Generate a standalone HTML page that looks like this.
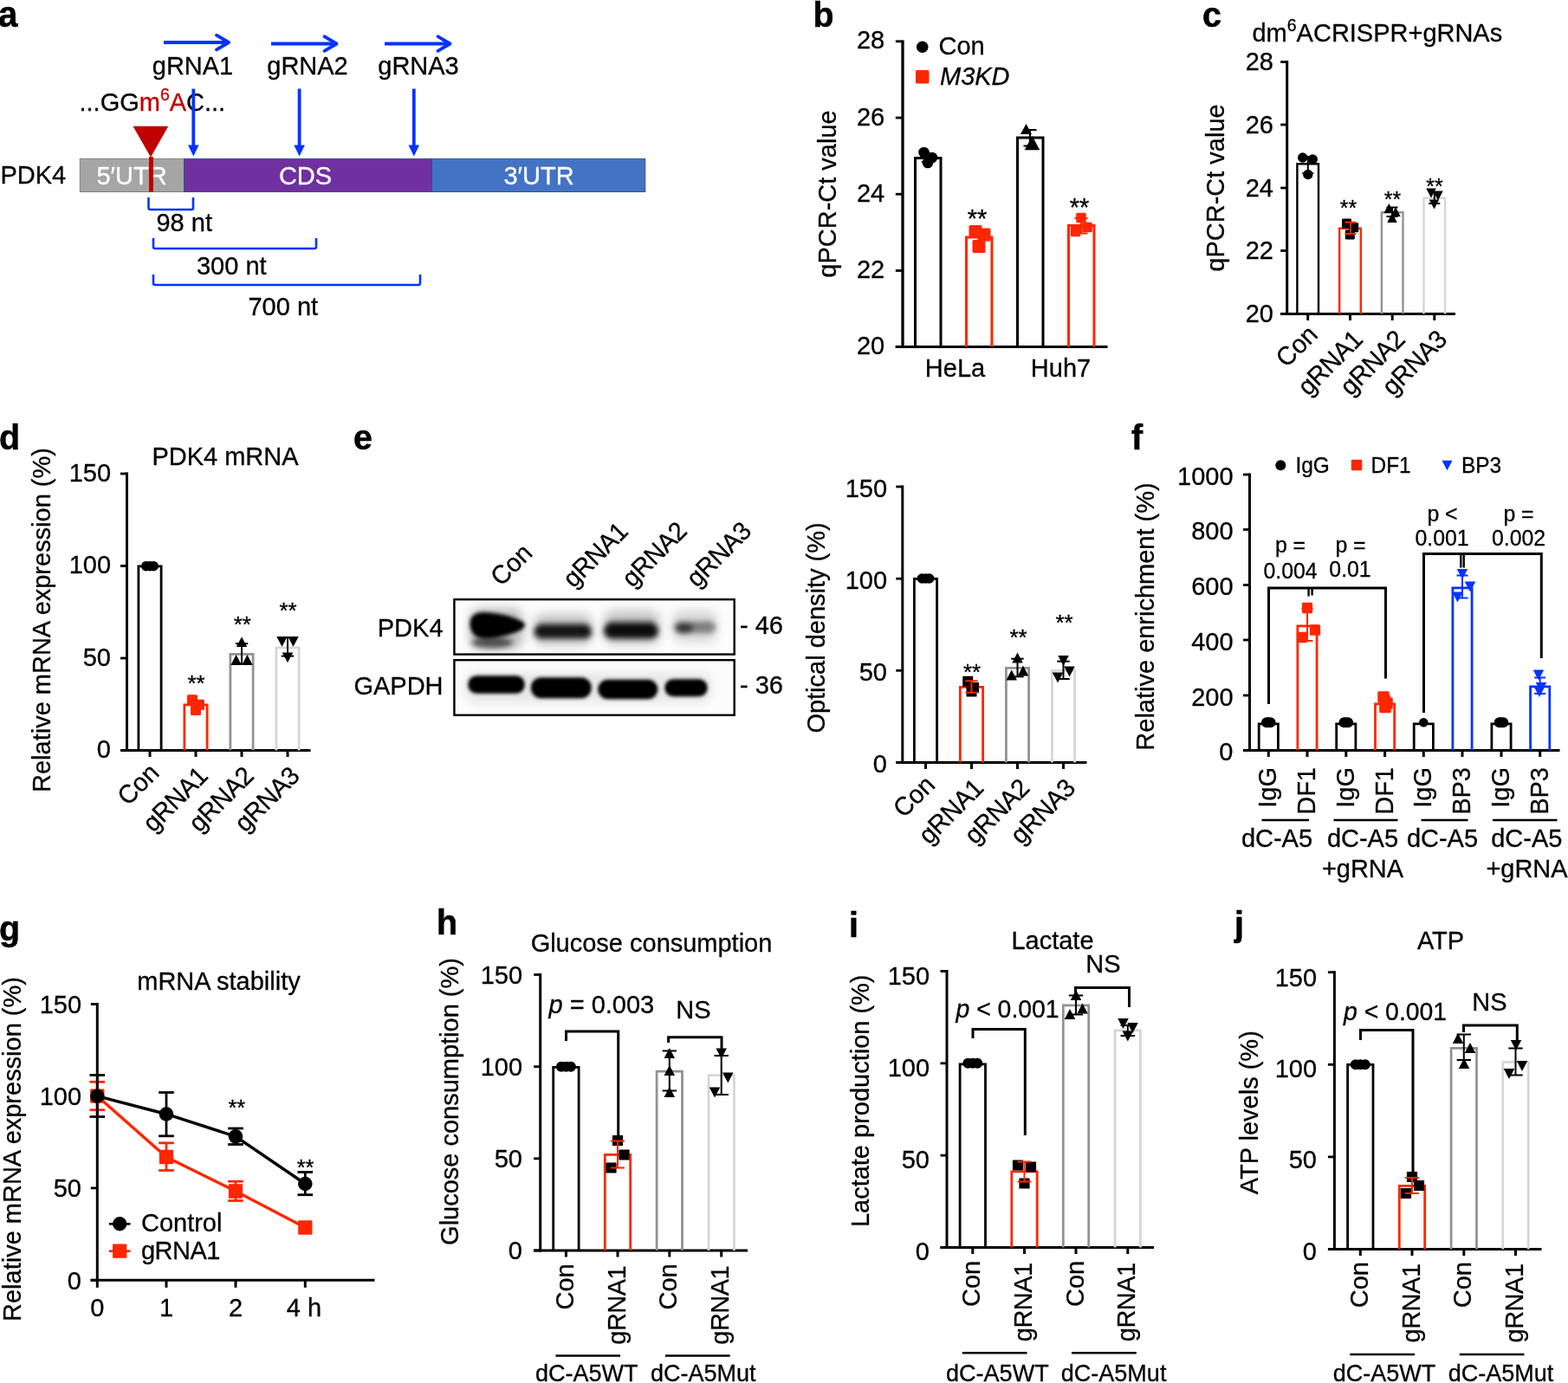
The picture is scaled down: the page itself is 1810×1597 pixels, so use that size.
<!DOCTYPE html>
<html lang="en"><head><meta charset="utf-8"><title>Figure</title>
<style>
html,body{margin:0;padding:0;background:#fff;}
body{width:1810px;height:1597px;overflow:hidden;}
svg{display:block;}
svg text{font-family:"Liberation Sans",sans-serif;}
</style></head><body>
<svg width="1810" height="1597" viewBox="0 0 1810 1597" font-size="29" fill="#000">
<rect width="1810" height="1597" fill="#fff"/>
<text font-weight="bold" font-size="40.39" transform="translate(-2 31) scale(1 1.03)" stroke="#000" stroke-width="0.5">a</text>
<line x1="189" y1="49" x2="262.5" y2="49" stroke="#0433ff" stroke-width="3.8"/>
<path d="M250 40.7 L264 49 L250 57.3" stroke="#0433ff" stroke-width="3.8" fill="none" stroke-linecap="round" stroke-linejoin="round"/>
<line x1="313" y1="50.5" x2="387" y2="50.5" stroke="#0433ff" stroke-width="3.8"/>
<path d="M374.5 42.2 L388.5 50.5 L374.5 58.8" stroke="#0433ff" stroke-width="3.8" fill="none" stroke-linecap="round" stroke-linejoin="round"/>
<line x1="444" y1="50.5" x2="518" y2="50.5" stroke="#0433ff" stroke-width="3.8"/>
<path d="M505.5 42.2 L519.5 50.5 L505.5 58.8" stroke="#0433ff" stroke-width="3.8" fill="none" stroke-linecap="round" stroke-linejoin="round"/>
<text text-anchor="middle" transform="translate(222.5 86) scale(1 1.03)" stroke="#000" stroke-width="0.3">gRNA1</text>
<text text-anchor="middle" transform="translate(355 86) scale(1 1.03)" stroke="#000" stroke-width="0.3">gRNA2</text>
<text text-anchor="middle" transform="translate(483 86) scale(1 1.03)" stroke="#000" stroke-width="0.3">gRNA3</text>
<text transform="translate(91.5 128) scale(1 1.03)" stroke="#000" stroke-width="0.3">...GG<tspan fill="#c00000" stroke="#c00000">m<tspan font-size="19.5" dy="-11.5">6</tspan><tspan dy="11.5">A</tspan></tspan>C...</text>
<line x1="223.3" y1="102.5" x2="223.3" y2="170" stroke="#0433ff" stroke-width="3.8"/>
<polygon points="223.3,180.5 217,167.5 229.6,167.5" fill="#0433ff"/>
<line x1="345.6" y1="102.5" x2="345.6" y2="170" stroke="#0433ff" stroke-width="3.8"/>
<polygon points="345.6,180.5 339.3,167.5 351.9,167.5" fill="#0433ff"/>
<line x1="477.8" y1="102.5" x2="477.8" y2="170" stroke="#0433ff" stroke-width="3.8"/>
<polygon points="477.8,180.5 471.5,167.5 484.1,167.5" fill="#0433ff"/>
<rect x="92.3" y="183.3" width="120.2" height="38.2" fill="#a5a5a5" stroke="#7f7f7f" stroke-width="1"/>
<rect x="212.5" y="183.3" width="286" height="38.2" fill="#7030a0" stroke="#2f528f" stroke-width="1"/>
<rect x="498.5" y="183.3" width="246.3" height="38.2" fill="#4472c4" stroke="#2f528f" stroke-width="1"/>
<text text-anchor="middle" fill="#fff" transform="translate(152 212.5) scale(1 1.03)" stroke="#fff" stroke-width="0.3">5′UTR</text>
<text text-anchor="middle" fill="#fff" transform="translate(352.5 212.5) scale(1 1.03)" stroke="#fff" stroke-width="0.3">CDS</text>
<text text-anchor="middle" fill="#fff" transform="translate(622 212.5) scale(1 1.03)" stroke="#fff" stroke-width="0.3">3′UTR</text>
<text transform="translate(0.5 212.3) scale(1 1.03)" stroke="#000" stroke-width="0.3">PDK4</text>
<polygon points="153.5,145.8 194.3,145.8 174,181.5" fill="#c00000"/>
<rect x="172" y="181" width="5" height="40.5" fill="#c00000"/>
<path d="M171.5 228 V240 Q171.5 242 173.5 242 H221 Q223 242 223 240 V228" stroke="#0433ff" stroke-width="2.6" fill="none"/>
<path d="M177 275 V285 Q177 287 179 287 H363 Q365 287 365 285 V275" stroke="#0433ff" stroke-width="2.6" fill="none"/>
<path d="M177 317 V327 Q177 329 179 329 H483 Q485 329 485 327 V317" stroke="#0433ff" stroke-width="2.6" fill="none"/>
<text transform="translate(180.5 267) scale(1 1.03)" stroke="#000" stroke-width="0.3">98 nt</text>
<text transform="translate(227 316.5) scale(1 1.03)" stroke="#000" stroke-width="0.3">300 nt</text>
<text transform="translate(286.5 364) scale(1 1.03)" stroke="#000" stroke-width="0.3">700 nt</text>
<text font-weight="bold" font-size="39.36" transform="translate(938.5 31) scale(1 1.03)" stroke="#000" stroke-width="0.5">b</text>
<line x1="1042" y1="46.4" x2="1042" y2="401.9" stroke="#000" stroke-width="3.3"/>
<line x1="1033.85" y1="47.8" x2="1042" y2="47.8" stroke="#000" stroke-width="2.8"/>
<text text-anchor="end" transform="translate(1021.2 56.4) scale(1 1.03)" stroke="#000" stroke-width="0.3">28</text>
<line x1="1033.85" y1="136" x2="1042" y2="136" stroke="#000" stroke-width="2.8"/>
<text text-anchor="end" transform="translate(1021.2 144.6) scale(1 1.03)" stroke="#000" stroke-width="0.3">26</text>
<line x1="1033.85" y1="224.2" x2="1042" y2="224.2" stroke="#000" stroke-width="2.8"/>
<text text-anchor="end" transform="translate(1021.2 232.8) scale(1 1.03)" stroke="#000" stroke-width="0.3">24</text>
<line x1="1033.85" y1="312.5" x2="1042" y2="312.5" stroke="#000" stroke-width="2.8"/>
<text text-anchor="end" transform="translate(1021.2 321.1) scale(1 1.03)" stroke="#000" stroke-width="0.3">22</text>
<line x1="1033.85" y1="400.5" x2="1042" y2="400.5" stroke="#000" stroke-width="2.8"/>
<text text-anchor="end" transform="translate(1021.2 409.1) scale(1 1.03)" stroke="#000" stroke-width="0.3">20</text>
<line x1="1033.7" y1="400.5" x2="1278.5" y2="400.5" stroke="#000" stroke-width="3.2"/>
<text text-anchor="middle" transform="translate(965 224) rotate(-90) scale(1 1.03)" stroke="#000" stroke-width="0.3">qPCR-Ct value</text>
<path d="M1056.5 400.5 V182.5 H1086 V400.5" stroke="#000" stroke-width="3" fill="none"/>
<path d="M1115.5 400.5 V274 H1145 V400.5" stroke="#ff2600" stroke-width="3" fill="none"/>
<path d="M1174.5 400.5 V159 H1204 V400.5" stroke="#000" stroke-width="3" fill="none"/>
<path d="M1233.5 400.5 V260.5 H1263 V400.5" stroke="#ff2600" stroke-width="3" fill="none"/>
<circle cx="1064.7" cy="54.2" r="6.8" fill="#000"/>
<text transform="translate(1083.5 62.5) scale(1 1.03)" stroke="#000" stroke-width="0.3">Con</text>
<rect x="1057" y="81" width="15.5" height="15.5" rx="1.5" fill="#ff2600"/>
<text font-style="italic" transform="translate(1085 97.5) scale(1 1.03)" stroke="#000" stroke-width="0.3">M3KD</text>
<line x1="1071" y1="177" x2="1071" y2="187" stroke="#000" stroke-width="2"/>
<line x1="1064" y1="177" x2="1078" y2="177" stroke="#000" stroke-width="2"/>
<line x1="1064" y1="187" x2="1078" y2="187" stroke="#000" stroke-width="2"/>
<circle cx="1066.5" cy="176" r="6.3" fill="#000"/>
<circle cx="1076" cy="182" r="6.3" fill="#000"/>
<circle cx="1071" cy="188" r="6.3" fill="#000"/>
<line x1="1130" y1="266" x2="1130" y2="284" stroke="#ff2600" stroke-width="2"/>
<line x1="1123" y1="266" x2="1137" y2="266" stroke="#ff2600" stroke-width="2"/>
<line x1="1123" y1="284" x2="1137" y2="284" stroke="#ff2600" stroke-width="2"/>
<rect x="1118.5" y="260" width="15" height="15" rx="1.5" fill="#ff2600"/>
<rect x="1128.5" y="263.5" width="15" height="15" rx="1.5" fill="#ff2600"/>
<rect x="1122.5" y="277" width="15" height="15" rx="1.5" fill="#ff2600"/>
<line x1="1189" y1="150" x2="1189" y2="168.5" stroke="#000" stroke-width="2"/>
<line x1="1181.5" y1="150" x2="1196.5" y2="150" stroke="#000" stroke-width="2"/>
<line x1="1181.5" y1="168.5" x2="1196.5" y2="168.5" stroke="#000" stroke-width="2"/>
<polygon points="1184.5,142.89 1191,155.11 1178,155.11" fill="#000"/>
<polygon points="1191.5,156.78 1200.25,173.22 1182.75,173.22" fill="#000"/>
<line x1="1248" y1="252" x2="1248" y2="269.5" stroke="#ff2600" stroke-width="2"/>
<line x1="1240.5" y1="252" x2="1255.5" y2="252" stroke="#ff2600" stroke-width="2"/>
<line x1="1240.5" y1="269.5" x2="1255.5" y2="269.5" stroke="#ff2600" stroke-width="2"/>
<rect x="1242.25" y="245.75" width="11.5" height="11.5" rx="1.5" fill="#ff2600"/>
<rect x="1249.25" y="256.75" width="11.5" height="11.5" rx="1.5" fill="#ff2600"/>
<rect x="1235.75" y="261.75" width="11.5" height="11.5" rx="1.5" fill="#ff2600"/>
<text text-anchor="middle" transform="translate(1128 262) scale(1 1.03)" stroke="#000" stroke-width="0.3">**</text>
<text text-anchor="middle" transform="translate(1246 248.5) scale(1 1.03)" stroke="#000" stroke-width="0.3">**</text>
<text text-anchor="middle" transform="translate(1102.5 435) scale(1 1.03)" stroke="#000" stroke-width="0.3">HeLa</text>
<text text-anchor="middle" transform="translate(1224.5 435) scale(1 1.03)" stroke="#000" stroke-width="0.3">Huh7</text>
<text font-weight="bold" font-size="39.36" transform="translate(1388 31) scale(1 1.03)" stroke="#000" stroke-width="0.5">c</text>
<text transform="translate(1445.5 47.7) scale(1 1.03)" stroke="#000" stroke-width="0.3">dm<tspan font-size="19.5" dy="-11.5">6</tspan><tspan dy="11.5">ACRISPR+gRNAs</tspan></text>
<line x1="1485.7" y1="70.1" x2="1485.7" y2="363.9" stroke="#000" stroke-width="3"/>
<line x1="1478.2" y1="71.5" x2="1485.7" y2="71.5" stroke="#000" stroke-width="2.8"/>
<text text-anchor="end" transform="translate(1470 81.1) scale(1 1.03)" stroke="#000" stroke-width="0.3">28</text>
<line x1="1478.2" y1="144" x2="1485.7" y2="144" stroke="#000" stroke-width="2.8"/>
<text text-anchor="end" transform="translate(1470 153.6) scale(1 1.03)" stroke="#000" stroke-width="0.3">26</text>
<line x1="1478.2" y1="217" x2="1485.7" y2="217" stroke="#000" stroke-width="2.8"/>
<text text-anchor="end" transform="translate(1470 226.6) scale(1 1.03)" stroke="#000" stroke-width="0.3">24</text>
<line x1="1478.2" y1="289.5" x2="1485.7" y2="289.5" stroke="#000" stroke-width="2.8"/>
<text text-anchor="end" transform="translate(1470 299.1) scale(1 1.03)" stroke="#000" stroke-width="0.3">22</text>
<line x1="1478.2" y1="362.5" x2="1485.7" y2="362.5" stroke="#000" stroke-width="2.8"/>
<text text-anchor="end" transform="translate(1470 372.1) scale(1 1.03)" stroke="#000" stroke-width="0.3">20</text>
<line x1="1478" y1="362.5" x2="1680" y2="362.5" stroke="#000" stroke-width="3"/>
<line x1="1509.7" y1="362.5" x2="1509.7" y2="370" stroke="#000" stroke-width="3"/>
<line x1="1558.5" y1="362.5" x2="1558.5" y2="370" stroke="#000" stroke-width="3"/>
<line x1="1607.2" y1="362.5" x2="1607.2" y2="370" stroke="#000" stroke-width="3"/>
<line x1="1655.8" y1="362.5" x2="1655.8" y2="370" stroke="#000" stroke-width="3"/>
<text text-anchor="middle" transform="translate(1412.5 217) rotate(-90) scale(1 1.03)" stroke="#000" stroke-width="0.3">qPCR-Ct value</text>
<path d="M1497.4 362.5 V189.2 H1522 V362.5" stroke="#000" stroke-width="2.4" fill="none"/>
<path d="M1546.2 362.5 V263.7 H1570.8 V362.5" stroke="#ff2600" stroke-width="2.4" fill="none"/>
<path d="M1594.9 362.5 V245.2 H1619.5 V362.5" stroke="#929292" stroke-width="2.4" fill="none"/>
<path d="M1643.5 362.5 V228.7 H1668.1 V362.5" stroke="#d6d6d6" stroke-width="2.4" fill="none"/>
<line x1="1509.8" y1="181" x2="1509.8" y2="200" stroke="#000" stroke-width="2"/>
<line x1="1503.3" y1="181" x2="1516.3" y2="181" stroke="#000" stroke-width="2"/>
<line x1="1503.3" y1="200" x2="1516.3" y2="200" stroke="#000" stroke-width="2"/>
<circle cx="1503.7" cy="182" r="5.7" fill="#000"/>
<circle cx="1515.3" cy="184" r="5.7" fill="#000"/>
<circle cx="1509.8" cy="201.5" r="5.7" fill="#000"/>
<rect x="1549" y="252.5" width="11" height="11" rx="1.2" fill="#000"/>
<rect x="1557.2" y="257.2" width="11" height="11" rx="1.2" fill="#000"/>
<rect x="1552.8" y="265.5" width="11" height="11" rx="1.2" fill="#000"/>
<line x1="1559" y1="256.7" x2="1559" y2="270" stroke="#ff2600" stroke-width="2"/>
<line x1="1552.5" y1="256.7" x2="1565.5" y2="256.7" stroke="#ff2600" stroke-width="2"/>
<line x1="1552.5" y1="270" x2="1565.5" y2="270" stroke="#ff2600" stroke-width="2"/>
<line x1="1607" y1="239.5" x2="1607" y2="250" stroke="#000" stroke-width="2"/>
<line x1="1600.5" y1="239.5" x2="1613.5" y2="239.5" stroke="#000" stroke-width="2"/>
<line x1="1600.5" y1="250" x2="1613.5" y2="250" stroke="#000" stroke-width="2"/>
<polygon points="1603.3,235.09 1609.05,245.91 1597.55,245.91" fill="#000"/>
<polygon points="1611,239.09 1616.75,249.91 1605.25,249.91" fill="#000"/>
<polygon points="1607,246.09 1612.75,256.9 1601.25,256.9" fill="#000"/>
<line x1="1655.8" y1="222" x2="1655.8" y2="235" stroke="#000" stroke-width="2"/>
<line x1="1649.3" y1="222" x2="1662.3" y2="222" stroke="#000" stroke-width="2"/>
<line x1="1649.3" y1="235" x2="1662.3" y2="235" stroke="#000" stroke-width="2"/>
<polygon points="1652,228.41 1657.75,217.59 1646.25,217.59" fill="#000"/>
<polygon points="1660,231.41 1665.75,220.59 1654.25,220.59" fill="#000"/>
<polygon points="1655.5,241.41 1661.25,230.59 1649.75,230.59" fill="#000"/>
<text text-anchor="middle" font-size="24.86" transform="translate(1556.5 249) scale(1 1.03)" stroke="#000" stroke-width="0.3">**</text>
<text text-anchor="middle" font-size="24.86" transform="translate(1607.5 239) scale(1 1.03)" stroke="#000" stroke-width="0.3">**</text>
<text text-anchor="middle" font-size="24.86" transform="translate(1656 224) scale(1 1.03)" stroke="#000" stroke-width="0.3">**</text>
<text text-anchor="end" transform="translate(1522.7 388) rotate(-45) scale(1 1.03)" stroke="#000" stroke-width="0.3">Con</text>
<text text-anchor="end" transform="translate(1574.5 394) rotate(-45) scale(1 1.03)" letter-spacing="-0.5" stroke="#000" stroke-width="0.3">gRNA1</text>
<text text-anchor="end" transform="translate(1623.2 394) rotate(-45) scale(1 1.03)" letter-spacing="-0.5" stroke="#000" stroke-width="0.3">gRNA2</text>
<text text-anchor="end" transform="translate(1671.8 394) rotate(-45) scale(1 1.03)" letter-spacing="-0.5" stroke="#000" stroke-width="0.3">gRNA3</text>
<text font-weight="bold" font-size="39.36" transform="translate(-1 519) scale(1 1.03)" stroke="#000" stroke-width="0.5">d</text>
<text text-anchor="middle" transform="translate(260 536.5) scale(1 1.03)" stroke="#000" stroke-width="0.3">PDK4 mRNA</text>
<line x1="146.5" y1="545.6" x2="146.5" y2="867.9" stroke="#000" stroke-width="3"/>
<line x1="139" y1="547" x2="146.5" y2="547" stroke="#000" stroke-width="2.8"/>
<text text-anchor="end" transform="translate(128 555.7) scale(1 1.03)" stroke="#000" stroke-width="0.3">150</text>
<line x1="139" y1="653.5" x2="146.5" y2="653.5" stroke="#000" stroke-width="2.8"/>
<text text-anchor="end" transform="translate(128 662.2) scale(1 1.03)" stroke="#000" stroke-width="0.3">100</text>
<line x1="139" y1="760" x2="146.5" y2="760" stroke="#000" stroke-width="2.8"/>
<text text-anchor="end" transform="translate(128 768.7) scale(1 1.03)" stroke="#000" stroke-width="0.3">50</text>
<line x1="139" y1="866.5" x2="146.5" y2="866.5" stroke="#000" stroke-width="2.8"/>
<text text-anchor="end" transform="translate(128 875.2) scale(1 1.03)" stroke="#000" stroke-width="0.3">0</text>
<line x1="139" y1="866.5" x2="358.5" y2="866.5" stroke="#000" stroke-width="3"/>
<line x1="173" y1="866.5" x2="173" y2="874" stroke="#000" stroke-width="3"/>
<line x1="226" y1="866.5" x2="226" y2="874" stroke="#000" stroke-width="3"/>
<line x1="279" y1="866.5" x2="279" y2="874" stroke="#000" stroke-width="3"/>
<line x1="332" y1="866.5" x2="332" y2="874" stroke="#000" stroke-width="3"/>
<text text-anchor="middle" transform="translate(57.5 716) rotate(-90) scale(1 1.03)" stroke="#000" stroke-width="0.3">Relative mRNA expression (%)</text>
<path d="M159.9 866.5 V653.9 H186.1 V866.5" stroke="#000" stroke-width="2.8" fill="none"/>
<path d="M212.9 866.5 V813.9 H239.1 V866.5" stroke="#ff2600" stroke-width="2.8" fill="none"/>
<path d="M265.9 866.5 V755.4 H292.1 V866.5" stroke="#929292" stroke-width="2.8" fill="none"/>
<path d="M318.9 866.5 V747.9 H345.1 V866.5" stroke="#d6d6d6" stroke-width="2.8" fill="none"/>
<circle cx="168.8" cy="653.7" r="5.8" fill="#000"/>
<circle cx="173" cy="653.7" r="5.8" fill="#000"/>
<circle cx="177.2" cy="653.7" r="5.8" fill="#000"/>
<rect x="216" y="802.2" width="12" height="12" rx="1.5" fill="#ff2600"/>
<rect x="224" y="807.8" width="12" height="12" rx="1.5" fill="#ff2600"/>
<rect x="220" y="814" width="12" height="12" rx="1.5" fill="#ff2600"/>
<line x1="279" y1="743.2" x2="279" y2="766.5" stroke="#000" stroke-width="2"/>
<line x1="271.8" y1="743.2" x2="286.2" y2="743.2" stroke="#000" stroke-width="2"/>
<line x1="271.8" y1="766.5" x2="286.2" y2="766.5" stroke="#000" stroke-width="2"/>
<polygon points="279,735.33 285.25,747.08 272.75,747.08" fill="#000"/>
<polygon points="272.6,756.12 278.85,767.88 266.35,767.88" fill="#000"/>
<polygon points="285.4,756.12 291.65,767.88 279.15,767.88" fill="#000"/>
<line x1="332" y1="736" x2="332" y2="757.6" stroke="#000" stroke-width="2"/>
<line x1="324.8" y1="736" x2="339.2" y2="736" stroke="#000" stroke-width="2"/>
<line x1="324.8" y1="757.6" x2="339.2" y2="757.6" stroke="#000" stroke-width="2"/>
<polygon points="325.5,746.67 331.75,734.92 319.25,734.92" fill="#000"/>
<polygon points="338.5,746.67 344.75,734.92 332.25,734.92" fill="#000"/>
<polygon points="332,765.17 338.25,753.42 325.75,753.42" fill="#000"/>
<text text-anchor="middle" font-size="25.89" transform="translate(226.5 798) scale(1 1.03)" stroke="#000" stroke-width="0.3">**</text>
<text text-anchor="middle" font-size="25.89" transform="translate(279.8 730) scale(1 1.03)" stroke="#000" stroke-width="0.3">**</text>
<text text-anchor="middle" font-size="25.89" transform="translate(332.5 714) scale(1 1.03)" stroke="#000" stroke-width="0.3">**</text>
<text text-anchor="end" transform="translate(185.3 894) rotate(-45) scale(1 1.03)" stroke="#000" stroke-width="0.3">Con</text>
<text text-anchor="end" transform="translate(241.3 898) rotate(-45) scale(1 1.03)" letter-spacing="-0.5" stroke="#000" stroke-width="0.3">gRNA1</text>
<text text-anchor="end" transform="translate(294.3 898) rotate(-45) scale(1 1.03)" letter-spacing="-0.5" stroke="#000" stroke-width="0.3">gRNA2</text>
<text text-anchor="end" transform="translate(347.3 898) rotate(-45) scale(1 1.03)" letter-spacing="-0.5" stroke="#000" stroke-width="0.3">gRNA3</text>
<text font-weight="bold" font-size="39.36" transform="translate(408 519) scale(1 1.03)" stroke="#000" stroke-width="0.5">e</text>
<defs><filter id="b2" filterUnits="userSpaceOnUse" x="500" y="670" width="370" height="180"><feGaussianBlur stdDeviation="2.3"/></filter><filter id="b3" filterUnits="userSpaceOnUse" x="500" y="670" width="370" height="180"><feGaussianBlur stdDeviation="3.2"/></filter><filter id="b5" filterUnits="userSpaceOnUse" x="500" y="670" width="370" height="180"><feGaussianBlur stdDeviation="6"/></filter><clipPath id="c1"><rect x="523.2" y="691" width="325.6" height="65.8"/></clipPath><clipPath id="c2"><rect x="523.2" y="761" width="325.6" height="66"/></clipPath></defs>
<rect x="523.2" y="691" width="325.6" height="65.8" fill="#fdfdfd"/>
<rect x="523.2" y="761" width="325.6" height="66" fill="#fcfcfc"/>
<g clip-path="url(#c1)">
<g filter="url(#b5)">
<rect x="542" y="702" width="62" height="48" rx="14" ry="14" fill="#000" opacity="0.25"/>
<rect x="616" y="708" width="68" height="38" rx="12" ry="12" fill="#000" opacity="0.2"/>
<rect x="697" y="704" width="65" height="41" rx="12" ry="12" fill="#000" opacity="0.2"/>
<rect x="776" y="704" width="52" height="38" rx="12" ry="12" fill="#000" opacity="0.14"/>
</g><g filter="url(#b3)">
<ellipse cx="568" cy="742" rx="24" ry="6.5" fill="#000" opacity="0.6"/>
<rect x="616.5" y="721.5" width="66.5" height="16" rx="8" ry="8" fill="#000" opacity="0.88"/>
<rect x="619" y="719" width="62" height="11" rx="5.5" ry="5.5" fill="#000" opacity="0.3"/>
<rect x="697" y="719.5" width="63" height="18" rx="9" ry="9" fill="#000" opacity="0.93"/>
<rect x="699" y="716" width="58" height="12" rx="6" ry="6" fill="#000" opacity="0.3"/>
<rect x="778" y="717.5" width="48" height="13.5" rx="6.5" ry="6.5" fill="#000" opacity="0.42"/>
<ellipse cx="790" cy="725.5" rx="10" ry="6" fill="#000" opacity="0.6"/>
</g><g filter="url(#b2)">
<path d="M544 722 C543 712 550 708 560 708.5 C575 709.5 592 713 603 719.5 C606 722 603 726 597 728 C586 732 572 736 562 736 C551 736 545 731 544 722 Z" fill="#000" stroke="#000" stroke-width="3"/>
</g></g><g clip-path="url(#c2)">
<g filter="url(#b5)">
<rect x="536" y="776" width="286" height="36" rx="14" ry="14" fill="#000" opacity="0.08"/>
</g><g filter="url(#b2)">
<rect x="540.5" y="780.5" width="65" height="20" rx="9.5" ry="9.5" fill="#000"/>
<rect x="613" y="782.5" width="69.5" height="23.5" rx="11.5" ry="11.5" fill="#000"/>
<rect x="690.5" y="785" width="68.5" height="22" rx="11" ry="11" fill="#000"/>
<rect x="767.5" y="784.5" width="49" height="19.5" rx="9.5" ry="9.5" fill="#000"/>
</g><g filter="url(#b2)">
<rect x="543" y="783" width="60" height="15" rx="7.5" ry="7.5" fill="#000"/>
<rect x="616" y="785" width="64" height="18.5" rx="9" ry="9" fill="#000"/>
<rect x="693" y="787.5" width="63.5" height="17" rx="8.5" ry="8.5" fill="#000"/>
<rect x="770" y="787" width="44" height="14.5" rx="7" ry="7" fill="#000"/>
</g></g>
<rect x="524.4" y="692.2" width="323.3" height="63.4" fill="none" stroke="#000" stroke-width="2.4"/>
<rect x="524.4" y="762.2" width="323.3" height="63.6" fill="none" stroke="#000" stroke-width="2.4"/>
<text text-anchor="end" transform="translate(511.5 734.5) scale(1 1.03)" stroke="#000" stroke-width="0.3">PDK4</text>
<text text-anchor="end" transform="translate(511.5 802) scale(1 1.03)" stroke="#000" stroke-width="0.3">GAPDH</text>
<text transform="translate(854 732) scale(1 1.03)" stroke="#000" stroke-width="0.3">- 46</text>
<text transform="translate(854 800.5) scale(1 1.03)" stroke="#000" stroke-width="0.3">- 36</text>
<text transform="translate(578.5 678) rotate(-45) scale(1 1.03)" stroke="#000" stroke-width="0.3">Con</text>
<text transform="translate(662 680) rotate(-45) scale(1 1.03)" letter-spacing="-0.5" stroke="#000" stroke-width="0.3">gRNA1</text>
<text transform="translate(730 679.5) rotate(-45) scale(1 1.03)" letter-spacing="-0.5" stroke="#000" stroke-width="0.3">gRNA2</text>
<text transform="translate(804.5 679.5) rotate(-45) scale(1 1.03)" letter-spacing="-0.5" stroke="#000" stroke-width="0.3">gRNA3</text>
<line x1="1041.8" y1="560.6" x2="1041.8" y2="881.9" stroke="#000" stroke-width="3"/>
<line x1="1034.3" y1="562" x2="1041.8" y2="562" stroke="#000" stroke-width="2.8"/>
<text text-anchor="end" transform="translate(1024 573.7) scale(1 1.03)" stroke="#000" stroke-width="0.3">150</text>
<line x1="1034.3" y1="668.2" x2="1041.8" y2="668.2" stroke="#000" stroke-width="2.8"/>
<text text-anchor="end" transform="translate(1024 679.9) scale(1 1.03)" stroke="#000" stroke-width="0.3">100</text>
<line x1="1034.3" y1="774.3" x2="1041.8" y2="774.3" stroke="#000" stroke-width="2.8"/>
<text text-anchor="end" transform="translate(1024 786) scale(1 1.03)" stroke="#000" stroke-width="0.3">50</text>
<line x1="1034.3" y1="880.5" x2="1041.8" y2="880.5" stroke="#000" stroke-width="2.8"/>
<text text-anchor="end" transform="translate(1024 892.2) scale(1 1.03)" stroke="#000" stroke-width="0.3">0</text>
<line x1="1034.5" y1="880.5" x2="1254.5" y2="880.5" stroke="#000" stroke-width="3"/>
<line x1="1068.5" y1="880.5" x2="1068.5" y2="888" stroke="#000" stroke-width="3"/>
<line x1="1121.5" y1="880.5" x2="1121.5" y2="888" stroke="#000" stroke-width="3"/>
<line x1="1174.5" y1="880.5" x2="1174.5" y2="888" stroke="#000" stroke-width="3"/>
<line x1="1227.5" y1="880.5" x2="1227.5" y2="888" stroke="#000" stroke-width="3"/>
<text text-anchor="middle" transform="translate(951.5 725) rotate(-90) scale(1 1.03)" stroke="#000" stroke-width="0.3">Optical density (%)</text>
<path d="M1055.4 880.5 V668.4 H1081.6 V880.5" stroke="#000" stroke-width="2.8" fill="none"/>
<path d="M1108.4 880.5 V793.4 H1134.6 V880.5" stroke="#ff2600" stroke-width="2.8" fill="none"/>
<path d="M1161.4 880.5 V771.4 H1187.6 V880.5" stroke="#929292" stroke-width="2.8" fill="none"/>
<path d="M1214.4 880.5 V774.4 H1240.6 V880.5" stroke="#d6d6d6" stroke-width="2.8" fill="none"/>
<circle cx="1064.3" cy="668" r="5.8" fill="#000"/>
<circle cx="1068.5" cy="668" r="5.8" fill="#000"/>
<circle cx="1072.7" cy="668" r="5.8" fill="#000"/>
<rect x="1111.2" y="780.7" width="12" height="12" rx="0.6" fill="#000"/>
<rect x="1118" y="788" width="12" height="12" rx="0.6" fill="#000"/>
<rect x="1115.5" y="792.5" width="12" height="12" rx="0.6" fill="#000"/>
<line x1="1121.5" y1="786.3" x2="1121.5" y2="799.7" stroke="#ff2600" stroke-width="2"/>
<line x1="1114.3" y1="786.3" x2="1128.7" y2="786.3" stroke="#ff2600" stroke-width="2"/>
<line x1="1114.3" y1="799.7" x2="1128.7" y2="799.7" stroke="#ff2600" stroke-width="2"/>
<line x1="1174.5" y1="760.7" x2="1174.5" y2="781.3" stroke="#000" stroke-width="2"/>
<line x1="1167.3" y1="760.7" x2="1181.7" y2="760.7" stroke="#000" stroke-width="2"/>
<line x1="1167.3" y1="781.3" x2="1181.7" y2="781.3" stroke="#000" stroke-width="2"/>
<polygon points="1174.5,753.62 1180.75,765.38 1168.25,765.38" fill="#000"/>
<polygon points="1167.7,773.62 1173.95,785.38 1161.45,785.38" fill="#000"/>
<polygon points="1181,768.62 1187.25,780.38 1174.75,780.38" fill="#000"/>
<line x1="1227.5" y1="763.7" x2="1227.5" y2="784" stroke="#000" stroke-width="2"/>
<line x1="1220.3" y1="763.7" x2="1234.7" y2="763.7" stroke="#000" stroke-width="2"/>
<line x1="1220.3" y1="784" x2="1234.7" y2="784" stroke="#000" stroke-width="2"/>
<polygon points="1227.5,768.88 1233.75,757.12 1221.25,757.12" fill="#000"/>
<polygon points="1221,788.38 1227.25,776.62 1214.75,776.62" fill="#000"/>
<polygon points="1234.5,781.38 1240.75,769.62 1228.25,769.62" fill="#000"/>
<text text-anchor="middle" font-size="25.89" transform="translate(1122 784.5) scale(1 1.03)" stroke="#000" stroke-width="0.3">**</text>
<text text-anchor="middle" font-size="25.89" transform="translate(1175.5 744.5) scale(1 1.03)" stroke="#000" stroke-width="0.3">**</text>
<text text-anchor="middle" font-size="25.89" transform="translate(1228.5 728) scale(1 1.03)" stroke="#000" stroke-width="0.3">**</text>
<text text-anchor="end" transform="translate(1080.8 908) rotate(-45) scale(1 1.03)" stroke="#000" stroke-width="0.3">Con</text>
<text text-anchor="end" transform="translate(1136.8 912) rotate(-45) scale(1 1.03)" letter-spacing="-0.5" stroke="#000" stroke-width="0.3">gRNA1</text>
<text text-anchor="end" transform="translate(1189.8 912) rotate(-45) scale(1 1.03)" letter-spacing="-0.5" stroke="#000" stroke-width="0.3">gRNA2</text>
<text text-anchor="end" transform="translate(1242.8 912) rotate(-45) scale(1 1.03)" letter-spacing="-0.5" stroke="#000" stroke-width="0.3">gRNA3</text>
<text font-weight="bold" font-size="39.36" transform="translate(1306 518.5) scale(1 1.03)" stroke="#000" stroke-width="0.5">f</text>
<line x1="1442.5" y1="546.6" x2="1442.5" y2="867.9" stroke="#000" stroke-width="3"/>
<line x1="1435" y1="548" x2="1442.5" y2="548" stroke="#000" stroke-width="2.8"/>
<text text-anchor="end" transform="translate(1423.5 559.5) scale(1 1.03)" stroke="#000" stroke-width="0.3">1000</text>
<line x1="1435" y1="611.5" x2="1442.5" y2="611.5" stroke="#000" stroke-width="2.8"/>
<text text-anchor="end" transform="translate(1423.5 623) scale(1 1.03)" stroke="#000" stroke-width="0.3">800</text>
<line x1="1435" y1="675.5" x2="1442.5" y2="675.5" stroke="#000" stroke-width="2.8"/>
<text text-anchor="end" transform="translate(1423.5 687) scale(1 1.03)" stroke="#000" stroke-width="0.3">600</text>
<line x1="1435" y1="739" x2="1442.5" y2="739" stroke="#000" stroke-width="2.8"/>
<text text-anchor="end" transform="translate(1423.5 750.5) scale(1 1.03)" stroke="#000" stroke-width="0.3">400</text>
<line x1="1435" y1="803" x2="1442.5" y2="803" stroke="#000" stroke-width="2.8"/>
<text text-anchor="end" transform="translate(1423.5 814.5) scale(1 1.03)" stroke="#000" stroke-width="0.3">200</text>
<line x1="1435" y1="866.5" x2="1442.5" y2="866.5" stroke="#000" stroke-width="2.8"/>
<text text-anchor="end" transform="translate(1423.5 878) scale(1 1.03)" stroke="#000" stroke-width="0.3">0</text>
<line x1="1435" y1="866.5" x2="1800.5" y2="866.5" stroke="#000" stroke-width="3"/>
<line x1="1464.3" y1="866.5" x2="1464.3" y2="874" stroke="#000" stroke-width="3"/>
<line x1="1509" y1="866.5" x2="1509" y2="874" stroke="#000" stroke-width="3"/>
<line x1="1553.8" y1="866.5" x2="1553.8" y2="874" stroke="#000" stroke-width="3"/>
<line x1="1598.6" y1="866.5" x2="1598.6" y2="874" stroke="#000" stroke-width="3"/>
<line x1="1643.3" y1="866.5" x2="1643.3" y2="874" stroke="#000" stroke-width="3"/>
<line x1="1688" y1="866.5" x2="1688" y2="874" stroke="#000" stroke-width="3"/>
<line x1="1733" y1="866.5" x2="1733" y2="874" stroke="#000" stroke-width="3"/>
<line x1="1777.7" y1="866.5" x2="1777.7" y2="874" stroke="#000" stroke-width="3"/>
<text text-anchor="middle" transform="translate(1332 712) rotate(-90) scale(1 1.03)" stroke="#000" stroke-width="0.3">Relative enrichment (%)</text>
<path d="M1453.2 866.5 V835.9 H1475.4 V866.5" stroke="#000" stroke-width="2.8" fill="none"/>
<path d="M1497.9 866.5 V722.9 H1520.1 V866.5" stroke="#ff2600" stroke-width="2.8" fill="none"/>
<path d="M1542.7 866.5 V835.9 H1564.9 V866.5" stroke="#000" stroke-width="2.8" fill="none"/>
<path d="M1587.5 866.5 V812.9 H1609.7 V866.5" stroke="#ff2600" stroke-width="2.8" fill="none"/>
<path d="M1632.2 866.5 V835.9 H1654.4 V866.5" stroke="#000" stroke-width="2.8" fill="none"/>
<path d="M1676.9 866.5 V678.9 H1699.1 V866.5" stroke="#0433ff" stroke-width="2.8" fill="none"/>
<path d="M1721.9 866.5 V835.9 H1744.1 V866.5" stroke="#000" stroke-width="2.8" fill="none"/>
<path d="M1766.6 866.5 V792.9 H1788.8 V866.5" stroke="#0433ff" stroke-width="2.8" fill="none"/>
<circle cx="1462" cy="834.3" r="6" fill="#000"/>
<circle cx="1464.3" cy="834.3" r="6" fill="#000"/>
<circle cx="1466.6" cy="834.3" r="6" fill="#000"/>
<circle cx="1551.5" cy="834.3" r="6" fill="#000"/>
<circle cx="1553.8" cy="834.3" r="6" fill="#000"/>
<circle cx="1556.1" cy="834.3" r="6" fill="#000"/>
<circle cx="1730.7" cy="834.3" r="6" fill="#000"/>
<circle cx="1733" cy="834.3" r="6" fill="#000"/>
<circle cx="1735.3" cy="834.3" r="6" fill="#000"/>
<circle cx="1643.3" cy="834.3" r="5.2" fill="#000"/>
<line x1="1509" y1="703" x2="1509" y2="740" stroke="#ff2600" stroke-width="2"/>
<line x1="1502.5" y1="703" x2="1515.5" y2="703" stroke="#ff2600" stroke-width="2"/>
<line x1="1502.5" y1="740" x2="1515.5" y2="740" stroke="#ff2600" stroke-width="2"/>
<rect x="1502.85" y="695.85" width="12.3" height="12.3" rx="1.5" fill="#ff2600"/>
<rect x="1511.85" y="721.35" width="12.3" height="12.3" rx="1.5" fill="#ff2600"/>
<rect x="1496.85" y="729.85" width="12.3" height="12.3" rx="1.5" fill="#ff2600"/>
<line x1="1598.6" y1="804" x2="1598.6" y2="818" stroke="#ff2600" stroke-width="2"/>
<line x1="1592.1" y1="804" x2="1605.1" y2="804" stroke="#ff2600" stroke-width="2"/>
<line x1="1592.1" y1="818" x2="1605.1" y2="818" stroke="#ff2600" stroke-width="2"/>
<rect x="1590.25" y="798.25" width="13.5" height="13.5" rx="1.5" fill="#ff2600"/>
<rect x="1594.25" y="805.25" width="13.5" height="13.5" rx="1.5" fill="#ff2600"/>
<rect x="1592.25" y="809.75" width="13.5" height="13.5" rx="1.5" fill="#ff2600"/>
<line x1="1688" y1="664.5" x2="1688" y2="690.5" stroke="#0433ff" stroke-width="2"/>
<line x1="1681.5" y1="664.5" x2="1694.5" y2="664.5" stroke="#0433ff" stroke-width="2"/>
<line x1="1681.5" y1="690.5" x2="1694.5" y2="690.5" stroke="#0433ff" stroke-width="2"/>
<polygon points="1688,668.88 1694.25,657.12 1681.75,657.12" fill="#0433ff"/>
<polygon points="1697,683.38 1703.25,671.62 1690.75,671.62" fill="#0433ff"/>
<polygon points="1682.5,695.38 1688.75,683.62 1676.25,683.62" fill="#0433ff"/>
<line x1="1777.7" y1="782.5" x2="1777.7" y2="801" stroke="#0433ff" stroke-width="2"/>
<line x1="1771.2" y1="782.5" x2="1784.2" y2="782.5" stroke="#0433ff" stroke-width="2"/>
<line x1="1771.2" y1="801" x2="1784.2" y2="801" stroke="#0433ff" stroke-width="2"/>
<polygon points="1776,785.38 1782.25,773.62 1769.75,773.62" fill="#0433ff"/>
<polygon points="1779,799.88 1785.25,788.12 1772.75,788.12" fill="#0433ff"/>
<polygon points="1777,804.88 1783.25,793.12 1770.75,793.12" fill="#0433ff"/>
<circle cx="1478.3" cy="537.3" r="6" fill="#000"/>
<text font-size="24.44" transform="translate(1495.5 546) scale(1 1.03)" stroke="#000" stroke-width="0.3">IgG</text>
<rect x="1559.75" y="530.75" width="12.5" height="12.5" rx="1.2" fill="#ff2600"/>
<text font-size="24.44" transform="translate(1582.5 546) scale(1 1.03)" stroke="#000" stroke-width="0.3">DF1</text>
<polygon points="1670.5,543.14 1676.5,531.86 1664.5,531.86" fill="#0433ff"/>
<text font-size="24.44" transform="translate(1687 546) scale(1 1.03)" stroke="#000" stroke-width="0.3">BP3</text>
<text text-anchor="middle" font-size="24.86" transform="translate(1489.5 637.5) scale(1 1.03)" stroke="#000" stroke-width="0.3">p =</text>
<text text-anchor="middle" font-size="24.86" transform="translate(1489.5 667.7) scale(1 1.03)" stroke="#000" stroke-width="0.3">0.004</text>
<text text-anchor="middle" font-size="24.86" transform="translate(1559 637.5) scale(1 1.03)" stroke="#000" stroke-width="0.3">p =</text>
<text text-anchor="middle" font-size="24.86" transform="translate(1558.5 665.7) scale(1 1.03)" stroke="#000" stroke-width="0.3">0.01</text>
<text text-anchor="middle" font-size="24.86" transform="translate(1665 601.5) scale(1 1.03)" stroke="#000" stroke-width="0.3">p &lt;</text>
<text text-anchor="middle" font-size="24.86" transform="translate(1664.5 629.7) scale(1 1.03)" stroke="#000" stroke-width="0.3">0.001</text>
<text text-anchor="middle" font-size="24.86" transform="translate(1753 601.5) scale(1 1.03)" stroke="#000" stroke-width="0.3">p =</text>
<text text-anchor="middle" font-size="24.86" transform="translate(1753 629.7) scale(1 1.03)" stroke="#000" stroke-width="0.3">0.002</text>
<path d="M1464.5 813 V679 H1599.5 V783.5" stroke="#000" stroke-width="3" fill="none" stroke-linejoin="miter"/>
<line x1="1510.6" y1="679" x2="1510.6" y2="688.5" stroke="#000" stroke-width="2.4"/>
<line x1="1514.6" y1="679" x2="1514.6" y2="687.5" stroke="#000" stroke-width="2.4"/>
<path d="M1643.5 823 V639.5 H1779.3 V760" stroke="#000" stroke-width="3" fill="none" stroke-linejoin="miter"/>
<line x1="1686.3" y1="639.5" x2="1686.3" y2="655.5" stroke="#000" stroke-width="2.4"/>
<line x1="1689.7" y1="639.5" x2="1689.7" y2="655.5" stroke="#000" stroke-width="2.4"/>
<text text-anchor="end" transform="translate(1473.3 886) rotate(-90) scale(1 1.03)" stroke="#000" stroke-width="0.3">IgG</text>
<text text-anchor="end" transform="translate(1518 886) rotate(-90) scale(1 1.03)" stroke="#000" stroke-width="0.3">DF1</text>
<text text-anchor="end" transform="translate(1562.8 886) rotate(-90) scale(1 1.03)" stroke="#000" stroke-width="0.3">IgG</text>
<text text-anchor="end" transform="translate(1607.6 886) rotate(-90) scale(1 1.03)" stroke="#000" stroke-width="0.3">DF1</text>
<text text-anchor="end" transform="translate(1652.3 886) rotate(-90) scale(1 1.03)" stroke="#000" stroke-width="0.3">IgG</text>
<text text-anchor="end" transform="translate(1697 886) rotate(-90) scale(1 1.03)" stroke="#000" stroke-width="0.3">BP3</text>
<text text-anchor="end" transform="translate(1742 886) rotate(-90) scale(1 1.03)" stroke="#000" stroke-width="0.3">IgG</text>
<text text-anchor="end" transform="translate(1786.7 886) rotate(-90) scale(1 1.03)" stroke="#000" stroke-width="0.3">BP3</text>
<line x1="1456.5" y1="947" x2="1511" y2="947" stroke="#000" stroke-width="2.4"/>
<line x1="1539.5" y1="947" x2="1613.5" y2="947" stroke="#000" stroke-width="2.4"/>
<line x1="1640.5" y1="947" x2="1694.5" y2="947" stroke="#000" stroke-width="2.4"/>
<line x1="1723" y1="947" x2="1797.5" y2="947" stroke="#000" stroke-width="2.4"/>
<text text-anchor="middle" transform="translate(1474 978) scale(1 1.03)" stroke="#000" stroke-width="0.3">dC-A5</text>
<text text-anchor="middle" transform="translate(1573 978) scale(1 1.03)" stroke="#000" stroke-width="0.3">dC-A5</text>
<text text-anchor="middle" transform="translate(1573 1013) scale(1 1.03)" stroke="#000" stroke-width="0.3">+gRNA</text>
<text text-anchor="middle" transform="translate(1665 978) scale(1 1.03)" stroke="#000" stroke-width="0.3">dC-A5</text>
<text text-anchor="middle" transform="translate(1762.3 978) scale(1 1.03)" stroke="#000" stroke-width="0.3">dC-A5</text>
<text text-anchor="middle" transform="translate(1762.5 1013) scale(1 1.03)" stroke="#000" stroke-width="0.3">+gRNA</text>
<text font-weight="bold" font-size="39.36" transform="translate(-1 1086) scale(1 1.03)" stroke="#000" stroke-width="0.5">g</text>
<text text-anchor="middle" transform="translate(252.5 1142.7) scale(1 1.03)" stroke="#000" stroke-width="0.3">mRNA stability</text>
<line x1="112.3" y1="1158.1" x2="112.3" y2="1479.7" stroke="#000" stroke-width="3"/>
<line x1="104.8" y1="1159.5" x2="112.3" y2="1159.5" stroke="#000" stroke-width="2.8"/>
<text text-anchor="end" transform="translate(94 1169.9) scale(1 1.03)" stroke="#000" stroke-width="0.3">150</text>
<line x1="104.8" y1="1265.7" x2="112.3" y2="1265.7" stroke="#000" stroke-width="2.8"/>
<text text-anchor="end" transform="translate(94 1276.1) scale(1 1.03)" stroke="#000" stroke-width="0.3">100</text>
<line x1="104.8" y1="1371.9" x2="112.3" y2="1371.9" stroke="#000" stroke-width="2.8"/>
<text text-anchor="end" transform="translate(94 1382.3) scale(1 1.03)" stroke="#000" stroke-width="0.3">50</text>
<line x1="104.8" y1="1478.3" x2="112.3" y2="1478.3" stroke="#000" stroke-width="2.8"/>
<text text-anchor="end" transform="translate(94 1488.7) scale(1 1.03)" stroke="#000" stroke-width="0.3">0</text>
<line x1="104.5" y1="1478.3" x2="432.5" y2="1478.3" stroke="#000" stroke-width="3"/>
<line x1="112.3" y1="1478.3" x2="112.3" y2="1486.8" stroke="#000" stroke-width="3"/>
<line x1="192" y1="1478.3" x2="192" y2="1486.8" stroke="#000" stroke-width="3"/>
<line x1="272" y1="1478.3" x2="272" y2="1486.8" stroke="#000" stroke-width="3"/>
<line x1="352.3" y1="1478.3" x2="352.3" y2="1486.8" stroke="#000" stroke-width="3"/>
<text text-anchor="middle" transform="translate(24 1327) rotate(-90) scale(1 1.03)" stroke="#000" stroke-width="0.3">Relative mRNA expression (%)</text>
<polyline points="112.3,1265.7 192,1336 272,1375.5 352.3,1417.5" fill="none" stroke="#ff2600" stroke-width="3.4"/>
<line x1="112.3" y1="1249.3" x2="112.3" y2="1281.7" stroke="#ff2600" stroke-width="2.8"/>
<line x1="103.5" y1="1249.3" x2="121.1" y2="1249.3" stroke="#ff2600" stroke-width="2.8"/>
<line x1="103.5" y1="1281.7" x2="121.1" y2="1281.7" stroke="#ff2600" stroke-width="2.8"/>
<line x1="192" y1="1319.8" x2="192" y2="1351.5" stroke="#ff2600" stroke-width="2.8"/>
<line x1="183.2" y1="1319.8" x2="200.8" y2="1319.8" stroke="#ff2600" stroke-width="2.8"/>
<line x1="183.2" y1="1351.5" x2="200.8" y2="1351.5" stroke="#ff2600" stroke-width="2.8"/>
<line x1="272" y1="1364.2" x2="272" y2="1386.5" stroke="#ff2600" stroke-width="2.8"/>
<line x1="263.2" y1="1364.2" x2="280.8" y2="1364.2" stroke="#ff2600" stroke-width="2.8"/>
<line x1="263.2" y1="1386.5" x2="280.8" y2="1386.5" stroke="#ff2600" stroke-width="2.8"/>
<rect x="104.15" y="1257.55" width="16.3" height="16.3" rx="0.8" fill="#ff2600"/>
<rect x="183.85" y="1327.85" width="16.3" height="16.3" rx="0.8" fill="#ff2600"/>
<rect x="263.85" y="1367.35" width="16.3" height="16.3" rx="0.8" fill="#ff2600"/>
<rect x="344.15" y="1409.35" width="16.3" height="16.3" rx="0.8" fill="#ff2600"/>
<polyline points="112.3,1265.7 192,1286.5 272,1312.3 352.3,1367" fill="none" stroke="#000" stroke-width="3.4"/>
<line x1="112.3" y1="1241.5" x2="112.3" y2="1289.5" stroke="#000" stroke-width="2.8"/>
<line x1="103.5" y1="1241.5" x2="121.1" y2="1241.5" stroke="#000" stroke-width="2.8"/>
<line x1="103.5" y1="1289.5" x2="121.1" y2="1289.5" stroke="#000" stroke-width="2.8"/>
<line x1="192" y1="1261.5" x2="192" y2="1311.8" stroke="#000" stroke-width="2.8"/>
<line x1="183.2" y1="1261.5" x2="200.8" y2="1261.5" stroke="#000" stroke-width="2.8"/>
<line x1="183.2" y1="1311.8" x2="200.8" y2="1311.8" stroke="#000" stroke-width="2.8"/>
<line x1="272" y1="1303" x2="272" y2="1321.5" stroke="#000" stroke-width="2.8"/>
<line x1="263.2" y1="1303" x2="280.8" y2="1303" stroke="#000" stroke-width="2.8"/>
<line x1="263.2" y1="1321.5" x2="280.8" y2="1321.5" stroke="#000" stroke-width="2.8"/>
<line x1="352.3" y1="1353.5" x2="352.3" y2="1379.7" stroke="#000" stroke-width="2.8"/>
<line x1="343.5" y1="1353.5" x2="361.1" y2="1353.5" stroke="#000" stroke-width="2.8"/>
<line x1="343.5" y1="1379.7" x2="361.1" y2="1379.7" stroke="#000" stroke-width="2.8"/>
<circle cx="112.3" cy="1265.7" r="8.3" fill="#000"/>
<circle cx="192" cy="1286.5" r="8.3" fill="#000"/>
<circle cx="272" cy="1312.3" r="8.3" fill="#000"/>
<circle cx="352.3" cy="1367" r="8.3" fill="#000"/>
<text text-anchor="middle" font-size="25.38" transform="translate(273.3 1287.8) scale(1 1.03)" stroke="#000" stroke-width="0.3">**</text>
<text text-anchor="middle" font-size="25.38" transform="translate(352.5 1357) scale(1 1.03)" stroke="#000" stroke-width="0.3">**</text>
<line x1="126" y1="1413.3" x2="150.5" y2="1413.3" stroke="#000" stroke-width="2.6"/>
<circle cx="138.2" cy="1413.3" r="8.2" fill="#000"/>
<text transform="translate(163 1422) scale(1 1.03)" stroke="#000" stroke-width="0.3">Control</text>
<line x1="126" y1="1444.7" x2="150.5" y2="1444.7" stroke="#ff2600" stroke-width="2.6"/>
<rect x="130.05" y="1436.55" width="16.3" height="16.3" rx="0.8" fill="#ff2600"/>
<text transform="translate(163 1453.5) scale(1 1.03)" letter-spacing="-0.5" stroke="#000" stroke-width="0.3">gRNA1</text>
<text text-anchor="middle" transform="translate(112.3 1520.3) scale(1 1.03)" stroke="#000" stroke-width="0.3">0</text>
<text text-anchor="middle" transform="translate(192 1520.3) scale(1 1.03)" stroke="#000" stroke-width="0.3">1</text>
<text text-anchor="middle" transform="translate(272 1520.3) scale(1 1.03)" stroke="#000" stroke-width="0.3">2</text>
<text text-anchor="middle" transform="translate(351 1520.3) scale(1 1.03)" stroke="#000" stroke-width="0.3">4 h</text>
<text font-weight="bold" font-size="39.36" transform="translate(504 1078.5) scale(1 1.03)" stroke="#000" stroke-width="0.5">h</text>
<text text-anchor="middle" transform="translate(752 1098.7) scale(1 1.03)" stroke="#000" stroke-width="0.3">Glucose consumption</text>
<line x1="623.7" y1="1124.1" x2="623.7" y2="1445.4" stroke="#000" stroke-width="3"/>
<line x1="616.2" y1="1125.5" x2="623.7" y2="1125.5" stroke="#000" stroke-width="2.8"/>
<text text-anchor="end" transform="translate(603 1135.9) scale(1 1.03)" stroke="#000" stroke-width="0.3">150</text>
<line x1="616.2" y1="1231.67" x2="623.7" y2="1231.67" stroke="#000" stroke-width="2.8"/>
<text text-anchor="end" transform="translate(603 1241.8) scale(1 1.03)" stroke="#000" stroke-width="0.3">100</text>
<line x1="616.2" y1="1337.83" x2="623.7" y2="1337.83" stroke="#000" stroke-width="2.8"/>
<text text-anchor="end" transform="translate(603 1347.7) scale(1 1.03)" stroke="#000" stroke-width="0.3">50</text>
<line x1="616.2" y1="1444" x2="623.7" y2="1444" stroke="#000" stroke-width="2.8"/>
<text text-anchor="end" transform="translate(603 1453.6) scale(1 1.03)" stroke="#000" stroke-width="0.3">0</text>
<line x1="616" y1="1444" x2="863" y2="1444" stroke="#000" stroke-width="3"/>
<line x1="653.4" y1="1444" x2="653.4" y2="1451.5" stroke="#000" stroke-width="3"/>
<line x1="713" y1="1444" x2="713" y2="1451.5" stroke="#000" stroke-width="3"/>
<line x1="772.8" y1="1444" x2="772.8" y2="1451.5" stroke="#000" stroke-width="3"/>
<line x1="832.7" y1="1444" x2="832.7" y2="1451.5" stroke="#000" stroke-width="3"/>
<text text-anchor="middle" transform="translate(528.5 1272) rotate(-90) scale(1 1.03)" stroke="#000" stroke-width="0.3">Glucose consumption (%)</text>
<path d="M638.7 1444 V1232.4 H668.1 V1444" stroke="#000" stroke-width="2.8" fill="none"/>
<path d="M698.3 1444 V1333.4 H727.7 V1444" stroke="#ff2600" stroke-width="2.8" fill="none"/>
<path d="M758.1 1444 V1237.1 H787.5 V1444" stroke="#929292" stroke-width="2.8" fill="none"/>
<path d="M818 1444 V1241.6 H847.4 V1444" stroke="#d6d6d6" stroke-width="2.8" fill="none"/>
<circle cx="647.9" cy="1231.67" r="6" fill="#000"/>
<circle cx="653.4" cy="1231.67" r="6" fill="#000"/>
<circle cx="658.9" cy="1231.67" r="6" fill="#000"/>
<text text-anchor="end" transform="translate(661.9 1459.3) rotate(-90) scale(1 1.03)" stroke="#000" stroke-width="0.3">Con</text>
<text text-anchor="end" transform="translate(721.5 1461.8) rotate(-90) scale(1 1.03)" letter-spacing="-0.5" stroke="#000" stroke-width="0.3">gRNA1</text>
<text text-anchor="end" transform="translate(781.3 1459.3) rotate(-90) scale(1 1.03)" stroke="#000" stroke-width="0.3">Con</text>
<text text-anchor="end" transform="translate(841.2 1461.8) rotate(-90) scale(1 1.03)" letter-spacing="-0.5" stroke="#000" stroke-width="0.3">gRNA1</text>
<line x1="641.4" y1="1565.5" x2="716" y2="1565.5" stroke="#000" stroke-width="2.6"/>
<line x1="767.8" y1="1565.5" x2="842.7" y2="1565.5" stroke="#000" stroke-width="2.6"/>
<text text-anchor="middle" font-size="27.03" transform="translate(677.2 1594.8) scale(1 1.03)" stroke="#000" stroke-width="0.3">dC-A5WT</text>
<text text-anchor="middle" font-size="27.03" transform="translate(811.75 1594.8) scale(1 1.03)" stroke="#000" stroke-width="0.3">dC-A5Mut</text>
<text transform="translate(633.5 1170) scale(1 1.03)" stroke="#000" stroke-width="0.3"><tspan font-style="italic">p</tspan> = 0.003</text>
<text text-anchor="middle" transform="translate(800.5 1176) scale(1 1.03)" stroke="#000" stroke-width="0.3">NS</text>
<path d="M653.5 1202 V1191 H713.7 V1316" stroke="#000" stroke-width="3" fill="none" stroke-linejoin="miter"/>
<path d="M771.6 1204 V1197.7 H833 V1211" stroke="#000" stroke-width="3" fill="none" stroke-linejoin="miter"/>
<rect x="706.9" y="1310.9" width="12.2" height="12.2" rx="0.6" fill="#000"/>
<rect x="714.4" y="1327.4" width="12.2" height="12.2" rx="0.6" fill="#000"/>
<rect x="699.4" y="1342.4" width="12.2" height="12.2" rx="0.6" fill="#000"/>
<line x1="713" y1="1317.5" x2="713" y2="1348.5" stroke="#ff2600" stroke-width="2"/>
<line x1="705" y1="1317.5" x2="721" y2="1317.5" stroke="#ff2600" stroke-width="2"/>
<line x1="705" y1="1348.5" x2="721" y2="1348.5" stroke="#ff2600" stroke-width="2"/>
<line x1="772.8" y1="1213.5" x2="772.8" y2="1259.5" stroke="#000" stroke-width="2"/>
<line x1="764.6" y1="1213.5" x2="781" y2="1213.5" stroke="#000" stroke-width="2"/>
<line x1="764.6" y1="1259.5" x2="781" y2="1259.5" stroke="#000" stroke-width="2"/>
<polygon points="772.8,1210.12 779.05,1221.88 766.55,1221.88" fill="#000"/>
<polygon points="772.8,1230.12 779.05,1241.88 766.55,1241.88" fill="#000"/>
<polygon points="772.8,1255.12 779.05,1266.88 766.55,1266.88" fill="#000"/>
<line x1="832.7" y1="1219" x2="832.7" y2="1264" stroke="#000" stroke-width="2"/>
<line x1="824.5" y1="1219" x2="840.9" y2="1219" stroke="#000" stroke-width="2"/>
<line x1="824.5" y1="1264" x2="840.9" y2="1264" stroke="#000" stroke-width="2"/>
<polygon points="832.7,1222.38 838.95,1210.62 826.45,1210.62" fill="#000"/>
<polygon points="840.3,1250.38 846.55,1238.62 834.05,1238.62" fill="#000"/>
<polygon points="825,1267.38 831.25,1255.62 818.75,1255.62" fill="#000"/>
<text font-weight="bold" font-size="39.36" transform="translate(980 1081.5) scale(1 1.03)" stroke="#000" stroke-width="0.5">i</text>
<text text-anchor="middle" transform="translate(1215 1096) scale(1 1.03)" stroke="#000" stroke-width="0.3">Lactate</text>
<line x1="1093" y1="1120.1" x2="1093" y2="1441.9" stroke="#000" stroke-width="3"/>
<line x1="1085.5" y1="1121.5" x2="1093" y2="1121.5" stroke="#000" stroke-width="2.8"/>
<text text-anchor="end" transform="translate(1073 1137.3) scale(1 1.03)" stroke="#000" stroke-width="0.3">150</text>
<line x1="1085.5" y1="1227.83" x2="1093" y2="1227.83" stroke="#000" stroke-width="2.8"/>
<text text-anchor="end" transform="translate(1073 1243.13) scale(1 1.03)" stroke="#000" stroke-width="0.3">100</text>
<line x1="1085.5" y1="1334.17" x2="1093" y2="1334.17" stroke="#000" stroke-width="2.8"/>
<text text-anchor="end" transform="translate(1073 1348.97) scale(1 1.03)" stroke="#000" stroke-width="0.3">50</text>
<line x1="1085.5" y1="1440.5" x2="1093" y2="1440.5" stroke="#000" stroke-width="2.8"/>
<text text-anchor="end" transform="translate(1073 1454.8) scale(1 1.03)" stroke="#000" stroke-width="0.3">0</text>
<line x1="1085.5" y1="1440.5" x2="1332" y2="1440.5" stroke="#000" stroke-width="3"/>
<line x1="1122.8" y1="1440.5" x2="1122.8" y2="1448" stroke="#000" stroke-width="3"/>
<line x1="1182.5" y1="1440.5" x2="1182.5" y2="1448" stroke="#000" stroke-width="3"/>
<line x1="1242" y1="1440.5" x2="1242" y2="1448" stroke="#000" stroke-width="3"/>
<line x1="1301.8" y1="1440.5" x2="1301.8" y2="1448" stroke="#000" stroke-width="3"/>
<text text-anchor="middle" transform="translate(1003 1271.3) rotate(-90) scale(1 1.03)" stroke="#000" stroke-width="0.3">Lactate production (%)</text>
<path d="M1108.1 1440.5 V1228.9 H1137.5 V1440.5" stroke="#000" stroke-width="2.8" fill="none"/>
<path d="M1167.8 1440.5 V1352.9 H1197.2 V1440.5" stroke="#ff2600" stroke-width="2.8" fill="none"/>
<path d="M1227.3 1440.5 V1160.9 H1256.7 V1440.5" stroke="#929292" stroke-width="2.8" fill="none"/>
<path d="M1287.1 1440.5 V1189.9 H1316.5 V1440.5" stroke="#d6d6d6" stroke-width="2.8" fill="none"/>
<circle cx="1117.3" cy="1227.83" r="6" fill="#000"/>
<circle cx="1122.8" cy="1227.83" r="6" fill="#000"/>
<circle cx="1128.3" cy="1227.83" r="6" fill="#000"/>
<text text-anchor="end" transform="translate(1131.3 1455.8) rotate(-90) scale(1 1.03)" stroke="#000" stroke-width="0.3">Con</text>
<text text-anchor="end" transform="translate(1191 1458.3) rotate(-90) scale(1 1.03)" letter-spacing="-0.5" stroke="#000" stroke-width="0.3">gRNA1</text>
<text text-anchor="end" transform="translate(1250.5 1455.8) rotate(-90) scale(1 1.03)" stroke="#000" stroke-width="0.3">Con</text>
<text text-anchor="end" transform="translate(1310.3 1458.3) rotate(-90) scale(1 1.03)" letter-spacing="-0.5" stroke="#000" stroke-width="0.3">gRNA1</text>
<line x1="1110.8" y1="1562.3" x2="1185.5" y2="1562.3" stroke="#000" stroke-width="2.6"/>
<line x1="1237" y1="1562.3" x2="1311.8" y2="1562.3" stroke="#000" stroke-width="2.6"/>
<text text-anchor="middle" font-size="27.03" transform="translate(1151.35 1594.8) scale(1 1.03)" stroke="#000" stroke-width="0.3">dC-A5WT</text>
<text text-anchor="middle" font-size="27.03" transform="translate(1285.6 1594.8) scale(1 1.03)" stroke="#000" stroke-width="0.3">dC-A5Mut</text>
<text font-size="28.38" transform="translate(1103.5 1175) scale(1 1.03)" stroke="#000" stroke-width="0.3"><tspan font-style="italic">p</tspan> &lt; 0.001</text>
<text text-anchor="middle" transform="translate(1273.5 1123) scale(1 1.03)" stroke="#000" stroke-width="0.3">NS</text>
<path d="M1123 1199 V1188.5 H1183.3 V1311" stroke="#000" stroke-width="3" fill="none" stroke-linejoin="miter"/>
<path d="M1241.5 1150 V1140.5 H1303.5 V1163" stroke="#000" stroke-width="3" fill="none" stroke-linejoin="miter"/>
<rect x="1168.9" y="1339.4" width="12.2" height="12.2" rx="0.6" fill="#000"/>
<rect x="1183.9" y="1341.4" width="12.2" height="12.2" rx="0.6" fill="#000"/>
<rect x="1176.4" y="1360.4" width="12.2" height="12.2" rx="0.6" fill="#000"/>
<line x1="1182.5" y1="1341.5" x2="1182.5" y2="1364.5" stroke="#ff2600" stroke-width="2"/>
<line x1="1174.5" y1="1341.5" x2="1190.5" y2="1341.5" stroke="#ff2600" stroke-width="2"/>
<line x1="1174.5" y1="1364.5" x2="1190.5" y2="1364.5" stroke="#ff2600" stroke-width="2"/>
<line x1="1242" y1="1149.5" x2="1242" y2="1171.5" stroke="#000" stroke-width="2"/>
<line x1="1233.8" y1="1149.5" x2="1250.2" y2="1149.5" stroke="#000" stroke-width="2"/>
<line x1="1233.8" y1="1171.5" x2="1250.2" y2="1171.5" stroke="#000" stroke-width="2"/>
<polygon points="1242,1143.12 1248.25,1154.88 1235.75,1154.88" fill="#000"/>
<polygon points="1235,1165.12 1241.25,1176.88 1228.75,1176.88" fill="#000"/>
<polygon points="1249.5,1158.62 1255.75,1170.38 1243.25,1170.38" fill="#000"/>
<line x1="1301.8" y1="1184" x2="1301.8" y2="1196" stroke="#000" stroke-width="2"/>
<line x1="1293.6" y1="1184" x2="1310" y2="1184" stroke="#000" stroke-width="2"/>
<line x1="1293.6" y1="1196" x2="1310" y2="1196" stroke="#000" stroke-width="2"/>
<polygon points="1296.5,1187.88 1302.75,1176.12 1290.25,1176.12" fill="#000"/>
<polygon points="1307.5,1192.88 1313.75,1181.12 1301.25,1181.12" fill="#000"/>
<polygon points="1301.8,1202.38 1308.05,1190.62 1295.55,1190.62" fill="#000"/>
<text font-weight="bold" font-size="39.36" transform="translate(1425 1081) scale(1 1.03)" stroke="#000" stroke-width="0.5">j</text>
<text text-anchor="middle" transform="translate(1663 1095.5) scale(1 1.03)" stroke="#000" stroke-width="0.3">ATP</text>
<line x1="1540.4" y1="1121.3" x2="1540.4" y2="1443.9" stroke="#000" stroke-width="3"/>
<line x1="1532.9" y1="1122.7" x2="1540.4" y2="1122.7" stroke="#000" stroke-width="2.8"/>
<text text-anchor="end" transform="translate(1520 1138.9) scale(1 1.03)" stroke="#000" stroke-width="0.3">150</text>
<line x1="1532.9" y1="1229.3" x2="1540.4" y2="1229.3" stroke="#000" stroke-width="2.8"/>
<text text-anchor="end" transform="translate(1520 1244.13) scale(1 1.03)" stroke="#000" stroke-width="0.3">100</text>
<line x1="1532.9" y1="1335.9" x2="1540.4" y2="1335.9" stroke="#000" stroke-width="2.8"/>
<text text-anchor="end" transform="translate(1520 1349.37) scale(1 1.03)" stroke="#000" stroke-width="0.3">50</text>
<line x1="1532.9" y1="1442.5" x2="1540.4" y2="1442.5" stroke="#000" stroke-width="2.8"/>
<text text-anchor="end" transform="translate(1520 1454.6) scale(1 1.03)" stroke="#000" stroke-width="0.3">0</text>
<line x1="1533" y1="1442.5" x2="1779.5" y2="1442.5" stroke="#000" stroke-width="3"/>
<line x1="1570.3" y1="1442.5" x2="1570.3" y2="1450" stroke="#000" stroke-width="3"/>
<line x1="1630" y1="1442.5" x2="1630" y2="1450" stroke="#000" stroke-width="3"/>
<line x1="1689.8" y1="1442.5" x2="1689.8" y2="1450" stroke="#000" stroke-width="3"/>
<line x1="1749.5" y1="1442.5" x2="1749.5" y2="1450" stroke="#000" stroke-width="3"/>
<text text-anchor="middle" transform="translate(1451.5 1284.7) rotate(-90) scale(1 1.03)" stroke="#000" stroke-width="0.3">ATP levels (%)</text>
<path d="M1555.6 1442.5 V1229.4 H1585 V1442.5" stroke="#000" stroke-width="2.8" fill="none"/>
<path d="M1615.3 1442.5 V1369.4 H1644.7 V1442.5" stroke="#ff2600" stroke-width="2.8" fill="none"/>
<path d="M1675.1 1442.5 V1210.4 H1704.5 V1442.5" stroke="#929292" stroke-width="2.8" fill="none"/>
<path d="M1734.8 1442.5 V1226.4 H1764.2 V1442.5" stroke="#d6d6d6" stroke-width="2.8" fill="none"/>
<circle cx="1564.8" cy="1229.3" r="6" fill="#000"/>
<circle cx="1570.3" cy="1229.3" r="6" fill="#000"/>
<circle cx="1575.8" cy="1229.3" r="6" fill="#000"/>
<text text-anchor="end" transform="translate(1578.8 1457) rotate(-90) scale(1 1.03)" stroke="#000" stroke-width="0.3">Con</text>
<text text-anchor="end" transform="translate(1638.5 1459.5) rotate(-90) scale(1 1.03)" letter-spacing="-0.5" stroke="#000" stroke-width="0.3">gRNA1</text>
<text text-anchor="end" transform="translate(1698.3 1457) rotate(-90) scale(1 1.03)" stroke="#000" stroke-width="0.3">Con</text>
<text text-anchor="end" transform="translate(1758 1459.5) rotate(-90) scale(1 1.03)" letter-spacing="-0.5" stroke="#000" stroke-width="0.3">gRNA1</text>
<line x1="1558.3" y1="1564" x2="1633" y2="1564" stroke="#000" stroke-width="2.6"/>
<line x1="1684.8" y1="1564" x2="1759.5" y2="1564" stroke="#000" stroke-width="2.6"/>
<text text-anchor="middle" font-size="27.03" transform="translate(1597.95 1594.8) scale(1 1.03)" stroke="#000" stroke-width="0.3">dC-A5WT</text>
<text text-anchor="middle" font-size="27.03" transform="translate(1732.45 1594.8) scale(1 1.03)" stroke="#000" stroke-width="0.3">dC-A5Mut</text>
<text font-size="28.38" transform="translate(1551 1178) scale(1 1.03)" stroke="#000" stroke-width="0.3"><tspan font-style="italic">p</tspan> &lt; 0.001</text>
<text text-anchor="middle" transform="translate(1719.5 1167) scale(1 1.03)" stroke="#000" stroke-width="0.3">NS</text>
<path d="M1570.5 1201 V1189.5 H1631 V1358" stroke="#000" stroke-width="3" fill="none" stroke-linejoin="miter"/>
<path d="M1689.5 1192 V1184 H1751.3 V1203" stroke="#000" stroke-width="3" fill="none" stroke-linejoin="miter"/>
<rect x="1623.9" y="1352.9" width="12.2" height="12.2" rx="0.6" fill="#000"/>
<rect x="1631.9" y="1362.9" width="12.2" height="12.2" rx="0.6" fill="#000"/>
<rect x="1616.9" y="1371.9" width="12.2" height="12.2" rx="0.6" fill="#000"/>
<line x1="1630" y1="1360" x2="1630" y2="1378" stroke="#ff2600" stroke-width="2"/>
<line x1="1622" y1="1360" x2="1638" y2="1360" stroke="#ff2600" stroke-width="2"/>
<line x1="1622" y1="1378" x2="1638" y2="1378" stroke="#ff2600" stroke-width="2"/>
<line x1="1689.8" y1="1194.5" x2="1689.8" y2="1224" stroke="#000" stroke-width="2"/>
<line x1="1681.6" y1="1194.5" x2="1698" y2="1194.5" stroke="#000" stroke-width="2"/>
<line x1="1681.6" y1="1224" x2="1698" y2="1224" stroke="#000" stroke-width="2"/>
<polygon points="1683,1193.12 1689.25,1204.88 1676.75,1204.88" fill="#000"/>
<polygon points="1697,1204.12 1703.25,1215.88 1690.75,1215.88" fill="#000"/>
<polygon points="1690,1222.12 1696.25,1233.88 1683.75,1233.88" fill="#000"/>
<line x1="1749.5" y1="1210.5" x2="1749.5" y2="1241.5" stroke="#000" stroke-width="2"/>
<line x1="1741.3" y1="1210.5" x2="1757.7" y2="1210.5" stroke="#000" stroke-width="2"/>
<line x1="1741.3" y1="1241.5" x2="1757.7" y2="1241.5" stroke="#000" stroke-width="2"/>
<polygon points="1750,1212.88 1756.25,1201.12 1743.75,1201.12" fill="#000"/>
<polygon points="1742,1245.88 1748.25,1234.12 1735.75,1234.12" fill="#000"/>
<polygon points="1757,1236.88 1763.25,1225.12 1750.75,1225.12" fill="#000"/>
</svg>
</body></html>
